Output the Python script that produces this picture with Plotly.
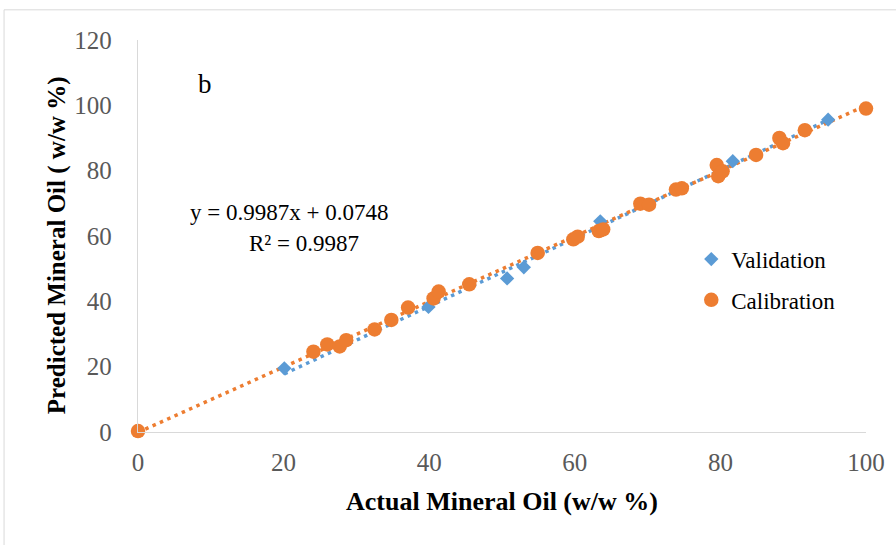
import numpy as np
import plotly.graph_objects as go

# Validation set (blue diamonds)
val_actual = [20.1, 39.9, 50.7, 53.0, 63.5, 81.7, 94.8]
val_pred = [19.5, 38.3, 47.0, 50.4, 64.5, 82.9, 95.6]

# Calibration set (orange circles)
cal_actual = [0.0, 24.1, 26.0, 27.7, 28.6, 32.5, 34.8, 37.1, 40.6, 41.3, 45.5,
              54.9, 59.8, 60.4, 63.3, 63.9, 69.0, 70.2, 73.9, 74.7, 79.5,
              79.7, 80.3, 84.9, 88.1, 88.6, 91.6, 100.0]
cal_pred = [0.3, 24.6, 26.8, 26.2, 28.1, 31.4, 34.3, 38.1, 40.9, 43.0, 45.2,
            54.8, 59.0, 59.8, 61.5, 62.0, 69.9, 69.6, 74.2, 74.6, 81.7,
            78.3, 79.8, 84.8, 90.0, 88.4, 92.4, 99.0]

eq_text = "y = 0.9987x + 0.0748"
r2_text = "R² = 0.9987"
x_ticks = [0, 20, 40, 60, 80, 100]
y_ticks = [0, 20, 40, 60, 80, 100, 120]

BLUE = "#5B9BD5"
ORANGE = "#ED7D31"
FONT = "Liberation Serif, Times New Roman, serif"

# linear trendlines fitted to the data
cv = np.polyfit(val_actual, val_pred, 1)
cc = np.polyfit(cal_actual, cal_pred, 1)
vx = np.array([min(val_actual), max(val_actual)])
cx = np.array([min(cal_actual), max(cal_actual)])

fig = go.Figure()
fig.add_trace(go.Scatter(x=vx, y=np.polyval(cv, vx), mode="lines",
                         line=dict(color=BLUE, width=3.5, dash="3.5px,4.5px"),
                         showlegend=False, hoverinfo="skip", cliponaxis=False))
fig.add_trace(go.Scatter(x=cx, y=np.polyval(cc, cx), mode="lines",
                         line=dict(color=ORANGE, width=3.5, dash="3.5px,4.5px"),
                         showlegend=False, hoverinfo="skip", cliponaxis=False))
fig.add_trace(go.Scatter(x=val_actual, y=val_pred, mode="markers", name="Validation",
                         marker=dict(symbol="diamond", size=11, color=BLUE),
                         cliponaxis=False, legend="legend"))
fig.add_trace(go.Scatter(x=cal_actual, y=cal_pred, mode="markers", name="Calibration",
                         marker=dict(symbol="circle", size=14.5, color=ORANGE),
                         cliponaxis=False, legend="legend2"))

axis_common = dict(showgrid=False, zeroline=False, showline=True, linecolor="#d9d9d9",
                   linewidth=1.3, ticks="", tickfont=dict(family=FONT, size=25, color="#595959"))

fig.update_layout(
    width=896, height=545,
    margin=dict(l=138, r=30, t=40, b=113),
    paper_bgcolor="white", plot_bgcolor="white",
    font=dict(family=FONT, color="black"),
    xaxis=dict(range=[0, 100], tickvals=x_ticks, ticklabelstandoff=8,
               title=dict(text="<b>Actual Mineral Oil (w/w %)</b>", font=dict(family=FONT, size=26, color="black"), standoff=16),
               **axis_common),
    yaxis=dict(range=[0, 120], tickvals=y_ticks, ticklabelstandoff=20, **axis_common),
    legend=dict(x=0.76, y=0.441, xanchor="left", yanchor="middle",
                font=dict(family=FONT, size=23, color="black"), bgcolor="rgba(0,0,0,0)"),
    legend2=dict(x=0.76, y=0.337, xanchor="left", yanchor="middle",
                 font=dict(family=FONT, size=23, color="black"), bgcolor="rgba(0,0,0,0)"),
    shapes=[dict(type="rect", xref="paper", yref="paper", x0=-0.184, x1=1.2, y0=-0.4, y1=1.077,
                 line=dict(color="#d9d9d9", width=1), fillcolor="rgba(0,0,0,0)", layer="below")],
    annotations=[
        dict(text="<b>Predicted Mineral Oil ( w/w %)</b>", xref="paper", yref="paper",
             x=-0.111, y=0.477, xanchor="center", yanchor="middle", textangle=-90, showarrow=False,
             font=dict(family=FONT, size=25, color="black")),
        dict(text="b", xref="paper", yref="paper", x=0.092, y=0.888, xanchor="center", yanchor="middle",
             showarrow=False, font=dict(family=FONT, size=27, color="black")),
        dict(text=eq_text, xref="paper", yref="paper", x=0.207, y=0.559, xanchor="center", yanchor="middle",
             showarrow=False, font=dict(family=FONT, size=23, color="black")),
        dict(text=r2_text, xref="paper", yref="paper", x=0.228, y=0.480, xanchor="center", yanchor="middle",
             showarrow=False, font=dict(family=FONT, size=23, color="black")),
    ],
)

fig.write_html("out.html")
